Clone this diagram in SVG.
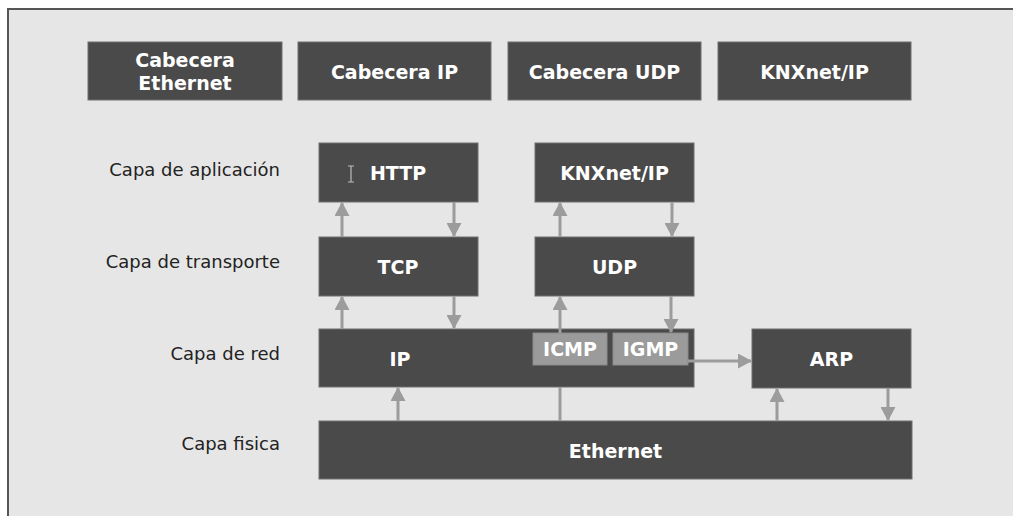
<svg xmlns="http://www.w3.org/2000/svg" width="1013" height="516" viewBox="0 0 1013 516">
<style>
.box{fill:#4a4a4a;stroke:#6e6e6e;stroke-width:1}
.sub{fill:#9b9b9b;stroke:#8a8a8a;stroke-width:1}
.bt{font-family:"DejaVu Sans",sans-serif;font-weight:bold;font-size:19px;fill:#ffffff;text-anchor:middle;dominant-baseline:central}
.lt{font-family:"DejaVu Sans",sans-serif;font-size:18px;fill:#222222;text-anchor:end;dominant-baseline:central}
.ln{stroke:#9c9c9c;stroke-width:3;fill:none}
</style>
<defs>
<marker id="ah" viewBox="0 0 14 15" refX="13" refY="7.5" markerUnits="userSpaceOnUse" markerWidth="14" markerHeight="15" orient="auto">
<path d="M0,0 L14,7.5 L0,15 Z" fill="#9c9c9c"/>
</marker>
</defs>
<rect x="0" y="0" width="1013" height="516" fill="#ffffff"/>
<rect x="8" y="9" width="1005" height="507" fill="#e6e6e6"/>
<path d="M8,516 L8,9 L1013,9" stroke="#555555" stroke-width="2" fill="none"/>

<g id="labels">
<text class="lt" x="280" y="169">Capa de aplicación</text>
<text class="lt" x="280" y="261">Capa de transporte</text>
<text class="lt" x="280" y="353">Capa de red</text>
<text class="lt" x="280" y="443">Capa fisica</text>
</g>

<g id="hdr-eth"><rect class="box" x="88" y="42" width="194" height="58"/>
<text class="bt" x="185" y="60">Cabecera</text><text class="bt" x="185" y="83">Ethernet</text></g>
<g id="hdr-ip"><rect class="box" x="298" y="42" width="193" height="58"/><text class="bt" x="394.5" y="72">Cabecera IP</text></g>
<g id="hdr-udp"><rect class="box" x="508" y="42" width="193" height="58"/><text class="bt" x="604.5" y="72">Cabecera UDP</text></g>
<g id="hdr-knx"><rect class="box" x="718" y="42" width="193" height="58"/><text class="bt" x="814.5" y="72">KNXnet/IP</text></g>

<g id="http"><rect class="box" x="319" y="143" width="159" height="59"/><text class="bt" x="398" y="173">HTTP</text>
<path d="M348,166 h6 M351,166 v16 M348,182 h6" stroke="#bbbbbb" stroke-width="1.2" fill="none"/></g>
<g id="knx"><rect class="box" x="535" y="143" width="159" height="59"/><text class="bt" x="614.5" y="173">KNXnet/IP</text></g>
<g id="tcp"><rect class="box" x="319" y="237" width="159" height="59"/><text class="bt" x="398" y="267">TCP</text></g>
<g id="udp"><rect class="box" x="535" y="237" width="159" height="59"/><text class="bt" x="614.5" y="267">UDP</text></g>
<g id="ip"><rect class="box" x="319" y="329" width="375" height="58"/><text class="bt" x="400" y="359">IP</text></g>
<g id="icmp"><rect class="sub" x="533" y="333" width="74" height="32"/><text class="bt" x="570" y="349">ICMP</text></g>
<g id="igmp"><rect class="sub" x="613" y="333" width="75" height="32"/><text class="bt" x="650.5" y="349">IGMP</text></g>
<g id="arp"><rect class="box" x="752" y="329" width="159" height="59"/><text class="bt" x="831.5" y="359">ARP</text></g>
<g id="ethernet"><rect class="box" x="319" y="421" width="593" height="58"/><text class="bt" x="615.5" y="451">Ethernet</text></g>

<g id="connectors">
<line class="ln" x1="342" y1="237" x2="342" y2="203" marker-end="url(#ah)"/>
<line class="ln" x1="454" y1="202" x2="454" y2="236" marker-end="url(#ah)"/>
<line class="ln" x1="560" y1="237" x2="560" y2="203" marker-end="url(#ah)"/>
<line class="ln" x1="672" y1="202" x2="672" y2="236" marker-end="url(#ah)"/>
<line class="ln" x1="342" y1="329" x2="342" y2="297" marker-end="url(#ah)"/>
<line class="ln" x1="454" y1="296" x2="454" y2="328" marker-end="url(#ah)"/>
<line class="ln" x1="560" y1="333" x2="560" y2="297" marker-end="url(#ah)"/>
<line class="ln" x1="671" y1="296" x2="671" y2="332" marker-end="url(#ah)"/>
<line class="ln" x1="398" y1="421" x2="398" y2="388" marker-end="url(#ah)"/>
<line class="ln" x1="560" y1="387" x2="560" y2="421"/>
<line class="ln" x1="688" y1="361" x2="751" y2="361" marker-end="url(#ah)"/>
<line class="ln" x1="777" y1="421" x2="777" y2="389" marker-end="url(#ah)"/>
<line class="ln" x1="888" y1="388" x2="888" y2="420" marker-end="url(#ah)"/>
</g>
</svg>
